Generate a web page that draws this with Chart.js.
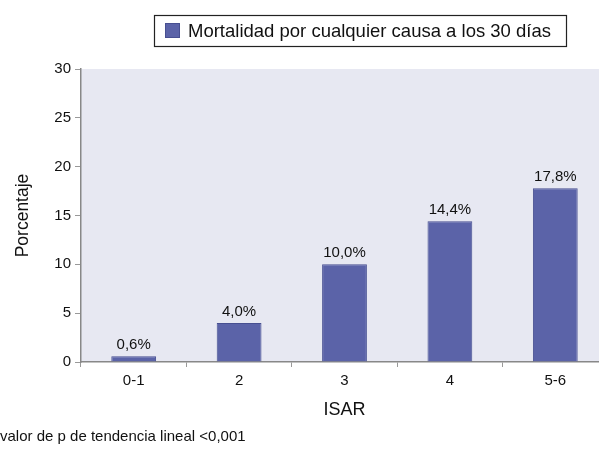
<!DOCTYPE html>
<html>
<head>
<meta charset="utf-8">
<script src="https://cdn.jsdelivr.net/npm/chart.js@4/dist/chart.umd.min.js"></script>
<style>
  html, body { margin: 0; padding: 0; background: #fff; overflow: hidden; }
  /* el área de trazado sigue más allá del borde derecho, como en la figura */
  #wrap { width: 610px; height: 450px; position: relative; }
</style>
</head>
<body>
<div id="wrap"><canvas id="chart"></canvas></div>
<script>
// datos
const categories = ['0-1', '2', '3', '4', '5-6'];
const mortalidad = [0.6, 4.0, 10.0, 14.4, 17.8];
const etiquetas = ['0,6%', '4,0%', '10,0%', '14,4%', '17,8%'];
const serieNombre = 'Mortalidad por cualquier causa a los 30 días';
const nota = 'valor de p de tendencia lineal <0,001';

const FONT = '"Liberation Sans", Arial, Helvetica, sans-serif';
const BAR = '#5b63a8';
const BAR_BORDER = '#474f91';

// fondo del área de trazado + leyenda con marco + etiquetas + nota
const extras = {
  id: 'extras',
  beforeDraw(chart) {
    const { ctx, chartArea: a } = chart;
    ctx.save();
    ctx.fillStyle = '#e7e8f2';
    ctx.fillRect(a.left, a.top, a.right - a.left, a.bottom - a.top);
    ctx.restore();
  },
  afterDatasetsDraw(chart) {
    const { ctx } = chart;
    const meta = chart.getDatasetMeta(0);
    ctx.save();
    ctx.font = '15px ' + FONT;
    ctx.fillStyle = '#111';
    ctx.textAlign = 'center';
    ctx.textBaseline = 'bottom';
    meta.data.forEach((bar, i) => {
      ctx.fillText(etiquetas[i], bar.x, bar.y - 4);
    });

    // leyenda
    ctx.strokeStyle = '#222';
    ctx.lineWidth = 1.2;
    ctx.strokeRect(154.5, 15.5, 412, 31);
    ctx.fillStyle = BAR;
    ctx.fillRect(165, 23, 15, 15);
    ctx.strokeStyle = BAR_BORDER;
    ctx.lineWidth = 1;
    ctx.strokeRect(165.5, 23.5, 14, 14);
    ctx.font = '18.5px ' + FONT;
    ctx.fillStyle = '#111';
    ctx.textAlign = 'left';
    ctx.textBaseline = 'middle';
    ctx.fillText(serieNombre, 188, 31.5);

    // nota al pie
    ctx.font = '15px ' + FONT;
    ctx.fillText(nota, 0, 437);
    ctx.restore();
  }
};

new Chart(document.getElementById('chart'), {
  type: 'bar',
  data: {
    labels: categories,
    datasets: [{
      label: serieNombre,
      data: mortalidad,
      backgroundColor: BAR,
      borderColor: BAR_BORDER,
      borderWidth: 1,
      categoryPercentage: 1,
      barPercentage: 0.425
    }]
  },
  options: {
    responsive: true,
    maintainAspectRatio: false,
    animation: false,
    layout: { padding: { top: 69, right: 2, bottom: 28, left: 0 } },
    plugins: { legend: { display: false }, tooltip: { enabled: false } },
    scales: {
      x: {
        afterFit(s) { s.height = 60; },
        grid: { drawOnChartArea: false, color: '#999', tickLength: 5, offset: true },
        border: { color: '#888', width: 1.5 },
        ticks: { color: '#111', font: { family: FONT, size: 15 }, padding: 5 },
        title: { display: true, text: 'ISAR', color: '#111', font: { family: FONT, size: 18 }, padding: { top: 4, bottom: 1 } }
      },
      y: {
        min: 0, max: 30,
        afterFit(s) { s.width = 81; },
        grid: { drawOnChartArea: false, color: '#999', tickLength: 6 },
        border: { color: '#888', width: 1.5 },
        ticks: { stepSize: 5, color: '#111', font: { family: FONT, size: 15 }, padding: 4 },
        title: { display: true, text: 'Porcentaje', color: '#111', font: { family: FONT, size: 17.5 }, padding: { top: 13, bottom: 0 } }
      }
    }
  },
  plugins: [extras]
});
</script>
</body>
</html>
